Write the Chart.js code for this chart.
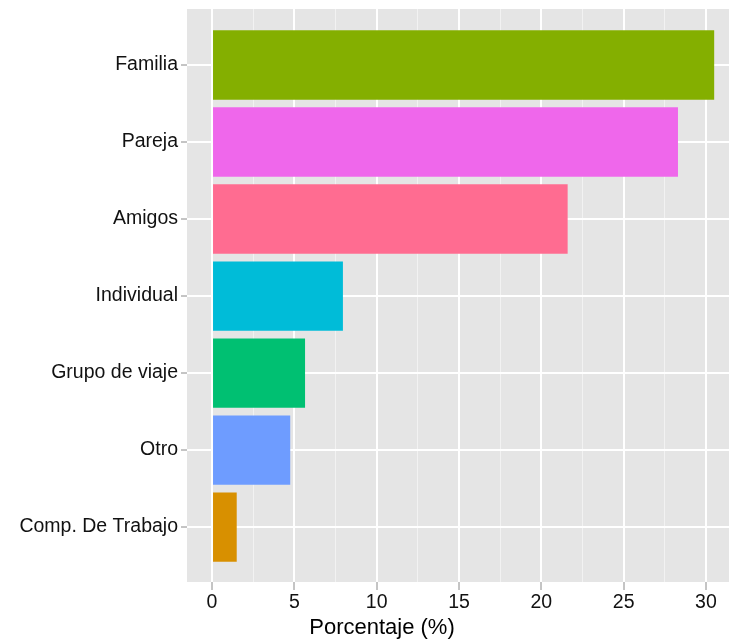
<!DOCTYPE html>
<html>
<head>
<meta charset="utf-8">
<script src="https://cdn.jsdelivr.net/npm/chart.js@4"></script>
<style>
  html, body { margin: 0; padding: 0; background: #fff; overflow: hidden; }
  #wrap { width: 729px; height: 640px; position: relative; }
</style>
</head>
<body>
<div id="wrap"><canvas id="chart"></canvas></div>
<script>
const categories = ['Familia', 'Pareja', 'Amigos', 'Individual', 'Grupo de viaje', 'Otro', 'Comp. De Trabajo'];
const percentages = [30.5, 28.3, 21.6, 7.95, 5.65, 4.75, 1.5];
const barColors = ['#84AF00', '#EF67EB', '#FF6C91', '#00BCD8', '#00C072', '#6E9CFF', '#D89000'];
const xTickValues = [0, 2.5, 5, 7.5, 10, 12.5, 15, 17.5, 20, 22.5, 25, 27.5, 30];
const xTitle = 'Porcentaje (%)';

const FONT = "'Liberation Sans', Arial, Helvetica, sans-serif";

// grey panel like ggplot
const panelBg = {
  id: 'panelBg',
  beforeDraw(chart) {
    const { ctx, chartArea: a } = chart;
    ctx.save();
    ctx.fillStyle = '#E5E5E5';
    ctx.fillRect(a.left, a.top, a.right - a.left, a.bottom - a.top);
    ctx.restore();
  }
};

// x axis title sits left of the panel centre in the original
const axisTitle = {
  id: 'axisTitle',
  afterDraw(chart) {
    const { ctx, chartArea: a } = chart;
    ctx.save();
    ctx.font = '22px ' + FONT;
    ctx.fillStyle = '#000';
    ctx.textAlign = 'center';
    ctx.textBaseline = 'alphabetic';
    ctx.fillText(xTitle, a.left + 195, a.bottom + 52);
    ctx.restore();
  }
};

const isMajor = v => v % 5 === 0;

new Chart(document.getElementById('chart').getContext('2d'), {
  type: 'bar',
  data: {
    datasets: [{
      data: percentages.map((v, i) => ({ x: v, y: i })),
      backgroundColor: barColors,
      borderWidth: 0,
      barPercentage: 0.9,
      categoryPercentage: 1
    }]
  },
  options: {
    indexAxis: 'y',
    responsive: true,
    maintainAspectRatio: false,
    animation: false,
    layout: { padding: { top: 9, right: 0, left: 0, bottom: 0 } },
    plugins: { legend: { display: false }, tooltip: { enabled: false } },
    scales: {
      x: {
        type: 'linear',
        min: -1.52,
        max: 31.4,
        afterBuildTicks: s => { s.ticks = xTickValues.map(v => ({ value: v })); },
        afterFit: s => { s.height = 58; s.paddingLeft = 0; s.paddingRight = 0; },
        border: { display: false },
        grid: {
          color: c => (c.tick && isMajor(c.tick.value)) ? '#FFFFFF' : '#F2F2F2',
          lineWidth: c => (c.tick && isMajor(c.tick.value)) ? 2 : 1,
          tickColor: c => (c.tick && isMajor(c.tick.value)) ? '#8A8A8A' : 'rgba(0,0,0,0)',
          tickLength: 8,
          tickWidth: 1
        },
        ticks: {
          autoSkip: false,
          maxRotation: 0,
          padding: 1,
          color: '#111',
          font: { family: FONT, size: 19.5 },
          callback: v => isMajor(v) ? String(v) : ''
        }
      },
      y: {
        type: 'linear',
        reverse: true,
        offset: false,
        min: -0.727,
        max: 6.713,
        afterBuildTicks: s => { s.ticks = categories.map((c, i) => ({ value: i })); },
        afterFit: s => { s.width = 187; s.paddingTop = 0; s.paddingBottom = 0; },
        border: { display: false },
        grid: {
          offset: false,
          color: '#FFFFFF',
          lineWidth: 2,
          tickColor: '#8A8A8A',
          tickLength: 6,
          tickWidth: 1
        },
        ticks: {
          autoSkip: false,
          padding: 3,
          color: '#111',
          font: { family: FONT, size: 19.5 },
          callback: v => categories[v]
        }
      }
    }
  },
  plugins: [panelBg, axisTitle]
});
</script>
</body>
</html>
